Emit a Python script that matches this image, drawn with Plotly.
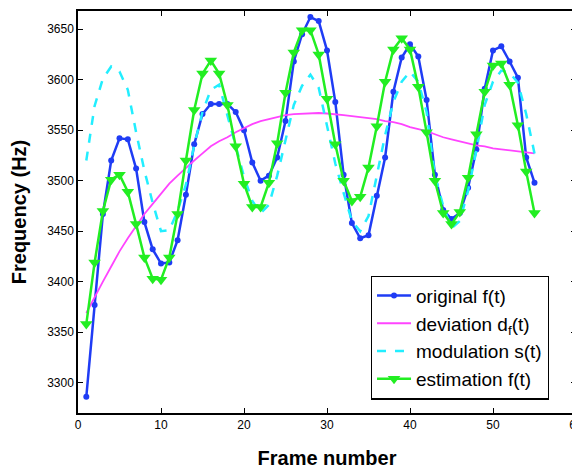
import plotly.graph_objects as go

frames = list(range(1, 56))

original = [3286, 3377, 3467, 3520, 3542, 3541, 3512, 3459, 3432, 3418,
            3419, 3441, 3486, 3536, 3566, 3576, 3576, 3576, 3568, 3550,
            3518, 3500, 3505, 3523, 3559, 3618, 3645, 3662, 3658, 3629,
            3578, 3506, 3458, 3443, 3446, 3485, 3523, 3588, 3622, 3635,
            3623, 3580, 3506, 3471, 3462, 3468, 3493, 3531, 3591, 3629,
            3633, 3618, 3602, 3523, 3498]

deviation = [3369, 3385, 3400, 3415, 3430, 3443, 3455, 3467, 3477, 3487,
             3497, 3505, 3513, 3520, 3527, 3534, 3539, 3543, 3548, 3552,
             3556, 3559, 3561, 3563, 3565, 3566, 3566.5, 3567, 3567, 3566.5,
             3566, 3565, 3564, 3563, 3562, 3561, 3559, 3558, 3556, 3553,
             3551, 3549, 3546, 3543, 3541, 3539, 3537, 3535, 3534, 3532,
             3531, 3530, 3529, 3528, 3527]

modulation = [3520, 3574, 3601, 3613, 3608, 3590, 3548, 3510, 3478, 3450,
              3451, 3470, 3496, 3535, 3568, 3590, 3595, 3565, 3536, 3504,
              3480, 3468, 3476, 3505, 3540, 3575, 3594, 3605, 3592, 3553,
              3517, 3488, 3460, 3450, 3465, 3505, 3545, 3578, 3598, 3608,
              3598, 3568, 3505, 3475, 3453, 3460, 3490, 3530, 3575, 3598,
              3609, 3607, 3597, 3566, 3527]

estimation = [3358, 3419, 3470, 3501, 3506, 3489, 3457, 3424, 3403, 3402,
              3424, 3467, 3520, 3570, 3606, 3619, 3606, 3575, 3534, 3497,
              3474, 3474, 3498, 3537, 3587, 3627, 3649, 3649, 3625, 3581,
              3536, 3500, 3480, 3484, 3513, 3554, 3598, 3630, 3641, 3630,
              3593, 3548, 3500, 3468, 3457, 3469, 3503, 3546, 3588, 3614,
              3616, 3595, 3555, 3509, 3468]

x_ticks = [0, 10, 20, 30, 40, 50, 60]
y_ticks = [3300, 3350, 3400, 3450, 3500, 3550, 3600, 3650]

FONT = "Liberation Sans, Arial, Helvetica, sans-serif"

fig = go.Figure()
fig.add_trace(go.Scatter(x=frames, y=original, mode="lines+markers",
                         name="original f(t)",
                         line=dict(color="#1f3cf5", width=2.5),
                         marker=dict(symbol="circle", size=6, color="#1f3cf5")))
fig.add_trace(go.Scatter(x=frames, y=deviation, mode="lines",
                         name="deviation d<sub>f</sub>(t)",
                         line=dict(color="#ff44ff", width=1.8)))
fig.add_trace(go.Scatter(x=frames, y=modulation, mode="lines",
                         name="modulation s(t)",
                         line=dict(color="#22eeff", width=2.5, dash="dash")))
fig.add_trace(go.Scatter(x=frames, y=estimation, mode="lines+markers",
                         name="estimation f(t)",
                         line=dict(color="#22ee22", width=2.5),
                         marker=dict(symbol="triangle-down", size=11, color="#22ee22")))

axis_common = dict(showline=True, linecolor="black", linewidth=1.5, mirror="ticks",
                   ticks="inside", ticklen=5, tickcolor="black", tickwidth=1,
                   showgrid=False, zeroline=False,
                   tickfont=dict(family=FONT, size=12, color="black"))

fig.update_layout(
    width=580, height=470,
    paper_bgcolor="white", plot_bgcolor="white",
    margin=dict(l=70, r=12, t=1, b=65),
    font=dict(family=FONT, color="black"),
    xaxis=dict(range=[0, 60], tickvals=x_ticks,
               title=dict(text="<b>Frame number</b>", font=dict(size=20, family=FONT), standoff=20),
               **axis_common),
    yaxis=dict(range=[3270, 3668], tickvals=y_ticks,
               title=dict(text="<b>Frequency (Hz)</b>", font=dict(size=20, family=FONT), standoff=16),
               **axis_common),
    legend=dict(x=0.588, y=0.342, xanchor="left", yanchor="top",
                bgcolor="white", bordercolor="black", borderwidth=1.2,
                font=dict(family=FONT, size=19, color="black"),
                tracegroupgap=0, itemwidth=34),
    showlegend=True,
)

fig.write_html("out.html")
